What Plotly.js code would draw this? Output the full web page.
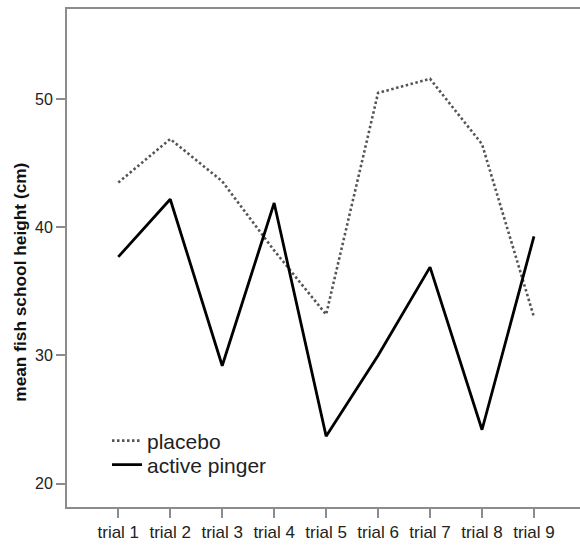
<!DOCTYPE html>
<html>
<head>
<meta charset="utf-8">
<script src="https://cdn.plot.ly/plotly-3.0.1.min.js"></script>
<style>
  html, body { margin: 0; padding: 0; background: #ffffff; }
  #chart { width: 580px; height: 545px; }
</style>
</head>
<body>
<div id="chart"></div>
<script>
const trials = ['trial 1', 'trial 2', 'trial 3', 'trial 4', 'trial 5', 'trial 6', 'trial 7', 'trial 8', 'trial 9'];
const placebo = [43.5, 46.9, 43.6, 38.2, 33.2, 50.5, 51.6, 46.5, 33.0];
const activePinger = [37.7, 42.2, 29.2, 41.9, 23.7, 30.0, 36.9, 24.2, 39.3];
const yTicks = [20, 30, 40, 50];
const yTitle = 'mean fish school height (cm)';

const traces = [
  {
    x: trials, y: placebo, type: 'scatter', mode: 'lines', name: 'placebo',
    legend: 'legend',
    line: { color: '#555555', width: 2.6, dash: '2.5px,2.5px' }
  },
  {
    x: trials, y: activePinger, type: 'scatter', mode: 'lines', name: 'active pinger',
    legend: 'legend2',
    line: { color: '#000000', width: 2.8 }
  }
];

const axisGray = '#8c8c8c';
const fontFam = 'Liberation Sans, Arial, sans-serif';
const legendBase = {
  xanchor: 'left', yanchor: 'middle',
  bgcolor: 'rgba(0,0,0,0)', borderwidth: 0,
  font: { size: 21, color: '#222222', family: fontFam },
  itemwidth: 30
};
const layout = {
  width: 580, height: 545,
  margin: { l: 67, r: 0, t: 9, b: 38 },
  paper_bgcolor: '#ffffff', plot_bgcolor: '#ffffff',
  font: { family: fontFam, color: '#222222' },
  showlegend: true,
  legend: Object.assign({ x: 0.078, y: 0.1325 }, legendBase),
  legend2: Object.assign({ x: 0.078, y: 0.0843 }, legendBase),
  xaxis: {
    type: 'category',
    range: [-0.987, 8.886],
    showgrid: false, zeroline: false,
    showline: true, linecolor: axisGray, linewidth: 2, mirror: true,
    ticks: 'outside', ticklen: 9, tickwidth: 2, tickcolor: axisGray,
    tickfont: { size: 17, color: '#222222' },
    fixedrange: true
  },
  yaxis: {
    range: [18.17, 57.05],
    tickvals: yTicks,
    showgrid: false, zeroline: false,
    showline: true, linecolor: axisGray, linewidth: 2,
    ticks: 'outside', ticklen: 9, tickwidth: 2, tickcolor: axisGray,
    tickfont: { size: 16, color: '#222222' },
    fixedrange: true
  },
  annotations: [
    {
      text: yTitle, textangle: -90, showarrow: false,
      xref: 'paper', yref: 'paper',
      x: -0.091, y: 0.451, xanchor: 'center', yanchor: 'middle',
      font: { size: 17.3, color: '#111111', family: fontFam, weight: 'bold' }
    }
  ]
};

Plotly.newPlot('chart', traces, layout, { displayModeBar: false, staticPlot: true });
</script>
</body>
</html>
